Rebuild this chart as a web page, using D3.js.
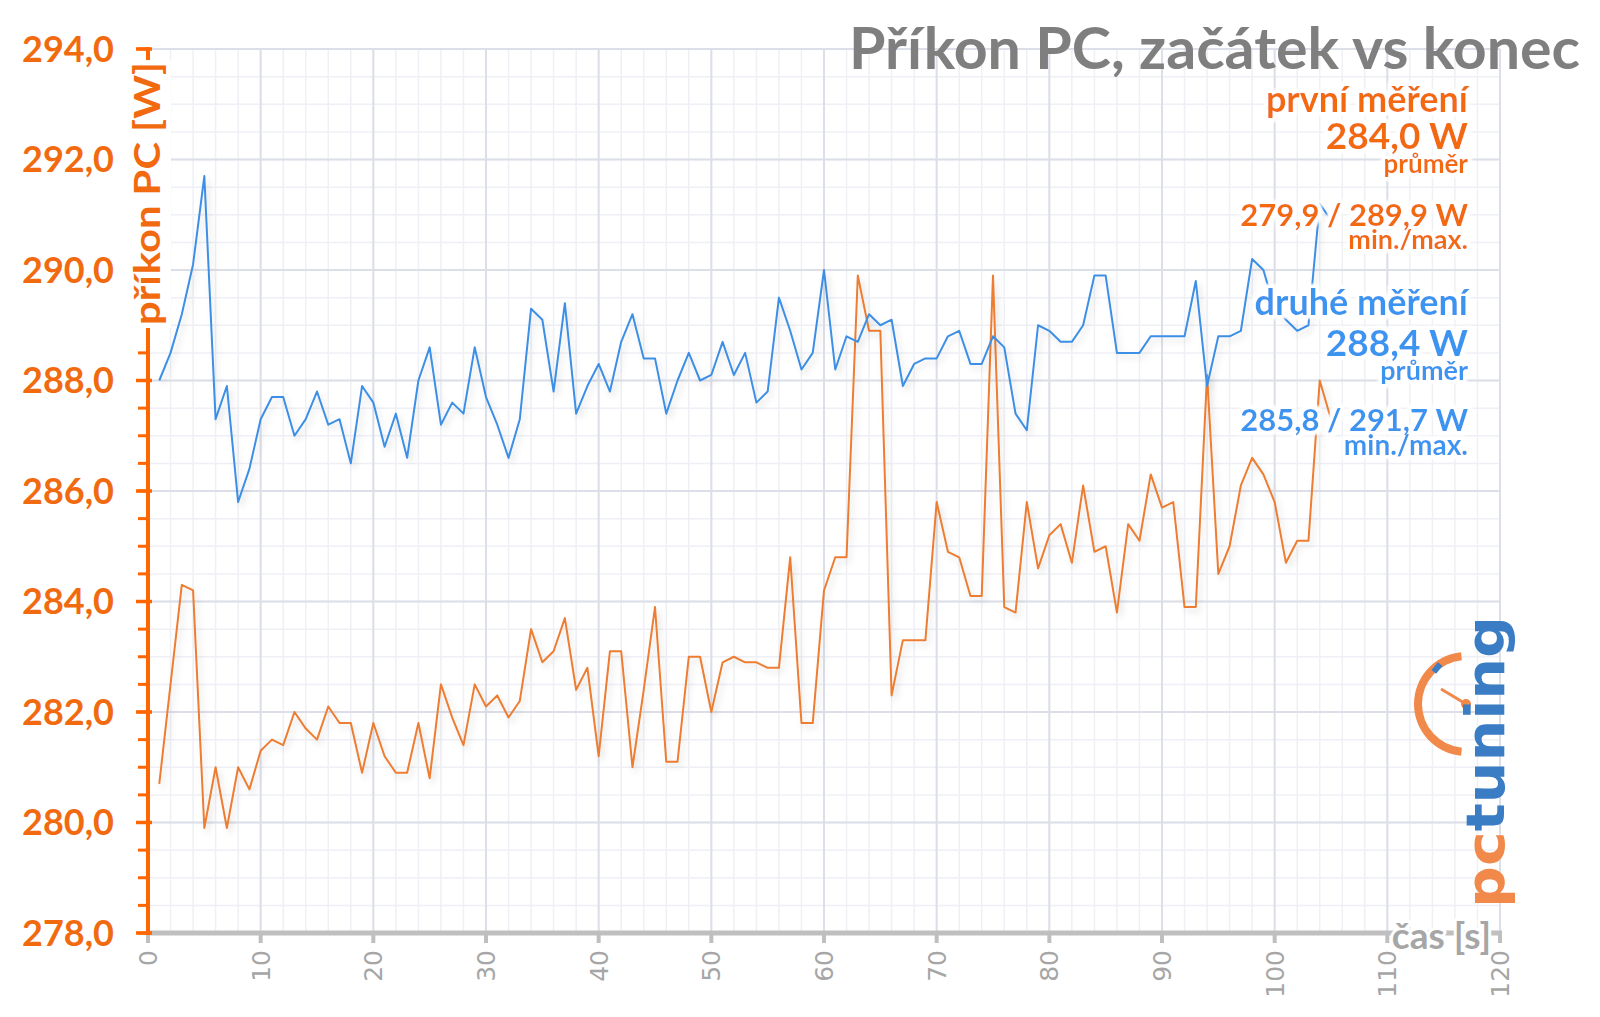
<!DOCTYPE html>
<html>
<head>
<meta charset="utf-8">
<script src="https://cdn.jsdelivr.net/npm/d3@7"></script>
<style>
  html, body { margin: 0; padding: 0; background: #ffffff; }
  svg { display: block; }
</style>
</head>
<body>
<script>
// ---------------- DATA ----------------
const timeSec = d3.range(1, 106); // 1..105 s
const firstRun = [
  280.7, 282.5, 284.3, 284.2, 279.9, 281.0, 279.9, 281.0, 280.6, 281.3,
  281.5, 281.4, 282.0, 281.7, 281.5, 282.1, 281.8, 281.8, 280.9, 281.8,
  281.2, 280.9, 280.9, 281.8, 280.8, 282.5, 281.9, 281.4, 282.5, 282.1,
  282.3, 281.9, 282.2, 283.5, 282.9, 283.1, 283.7, 282.4, 282.8, 281.2,
  283.1, 283.1, 281.0, 282.4, 283.9, 281.1, 281.1, 283.0, 283.0, 282.0,
  282.9, 283.0, 282.9, 282.9, 282.8, 282.8, 284.8, 281.8, 281.8, 284.2,
  284.8, 284.8, 289.9, 288.9, 288.9, 282.3, 283.3, 283.3, 283.3, 285.8,
  284.9, 284.8, 284.1, 284.1, 289.9, 283.9, 283.8, 285.8, 284.6, 285.2,
  285.4, 284.7, 286.1, 284.9, 285.0, 283.8, 285.4, 285.1, 286.3, 285.7,
  285.8, 283.9, 283.9, 288.1, 284.5, 285.0, 286.1, 286.6, 286.3, 285.8,
  284.7, 285.1, 285.1, 288.0, 287.3
];
const secondRun = [
  288.0, 288.5, 289.2, 290.1, 291.7, 287.3, 287.9, 285.8, 286.4, 287.3,
  287.7, 287.7, 287.0, 287.3, 287.8, 287.2, 287.3, 286.5, 287.9, 287.6,
  286.8, 287.4, 286.6, 288.0, 288.6, 287.2, 287.6, 287.4, 288.6, 287.7,
  287.2, 286.6, 287.3, 289.3, 289.1, 287.8, 289.4, 287.4, 287.9, 288.3,
  287.8, 288.7, 289.2, 288.4, 288.4, 287.4, 288.0, 288.5, 288.0, 288.1,
  288.7, 288.1, 288.5, 287.6, 287.8, 289.5, 288.9, 288.2, 288.5, 290.0,
  288.2, 288.8, 288.7, 289.2, 289.0, 289.1, 287.9, 288.3, 288.4, 288.4,
  288.8, 288.9, 288.3, 288.3, 288.8, 288.6, 287.4, 287.1, 289.0, 288.9,
  288.7, 288.7, 289.0, 289.9, 289.9, 288.5, 288.5, 288.5, 288.8, 288.8,
  288.8, 288.8, 289.8, 287.9, 288.8, 288.8, 288.9, 290.2, 290.0, 289.3,
  289.1, 288.9, 289.0, 291.2, 290.9
];
const yTickValues = [278, 280, 282, 284, 286, 288, 290, 292, 294];
const xTickValues = [0, 10, 20, 30, 40, 50, 60, 70, 80, 90, 100, 110, 120];
const titleText = "Příkon PC, začátek vs konec";
const yAxisTitle = "příkon PC [W]";
const xAxisTitle = "čas [s]";
const legendFirst = ["první měření", "284,0 W", "průměr", "279,9 / 289,9 W", "min./max."];
const legendSecond = ["druhé měření", "288,4 W", "průměr", "285,8 / 291,7 W", "min./max."];

// ---------------- LAYOUT ----------------
const W = 1600, H = 1017;
const ORANGE_TXT = "#f26a10", ORANGE_AX = "#ff6600", ORANGE_LINE = "#ed7d31";
const BLUE_LINE = "#3d8fe6", BLUE_TXT = "#3a95f0";
const FONT = "Lato, 'Open Sans', sans-serif";

const x = d3.scaleLinear().domain([0, 120]).range([148, 1500]);
const y = d3.scaleLinear().domain([278, 294]).range([933, 49]);

const svg = d3.select("body").append("svg").attr("width", W).attr("height", H);
const defs = svg.append("defs");
const f = defs.append("filter").attr("id", "shadow").attr("x", "-5%").attr("y", "-5%").attr("width", "110%").attr("height", "120%");
f.append("feDropShadow").attr("dx", 3).attr("dy", 4).attr("stdDeviation", 3)
  .attr("flood-color", "#000").attr("flood-opacity", 0.13);
// white glow behind legend texts
const hf = defs.append("filter").attr("id", "halo").attr("x", "-10%").attr("y", "-10%").attr("width", "120%").attr("height", "120%");
hf.append("feMorphology").attr("in", "SourceAlpha").attr("operator", "dilate").attr("radius", 4).attr("result", "dil");
hf.append("feGaussianBlur").attr("in", "dil").attr("stdDeviation", 1).attr("result", "blur");
hf.append("feFlood").attr("flood-color", "#ffffff").attr("result", "white");
hf.append("feComposite").attr("in", "white").attr("in2", "blur").attr("operator", "in").attr("result", "glow");
const hm = hf.append("feMerge");
hm.append("feMergeNode").attr("in", "glow");
hm.append("feMergeNode").attr("in", "SourceGraphic");

// grid
const grid = svg.append("g");
grid.selectAll(".vmin").data(d3.range(0, 121, 2)).join("line")
  .attr("x1", d => x(d)).attr("x2", d => x(d)).attr("y1", y(294)).attr("y2", y(278))
  .attr("stroke", "#eef0f5").attr("stroke-width", 1.5);
grid.selectAll(".hmin").data(d3.range(278, 294.01, 0.5)).join("line")
  .attr("x1", x(0)).attr("x2", x(120)).attr("y1", d => y(d)).attr("y2", d => y(d))
  .attr("stroke", "#eef0f5").attr("stroke-width", 1.5);
grid.selectAll(".vmaj").data(xTickValues).join("line")
  .attr("x1", d => x(d)).attr("x2", d => x(d)).attr("y1", y(294)).attr("y2", y(278))
  .attr("stroke", "#dcdfe7").attr("stroke-width", 2);
grid.selectAll(".hmaj").data(yTickValues).join("line")
  .attr("x1", x(0)).attr("x2", x(120)).attr("y1", d => y(d)).attr("y2", d => y(d))
  .attr("stroke", "#dcdfe7").attr("stroke-width", 2);

// title
svg.append("text").attr("x", 1580).attr("y", 69).attr("text-anchor", "end")
  .attr("font-family", FONT).attr("font-weight", 700).attr("font-size", 58)
  .attr("fill", "#7f7f7f").attr("textLength", 731).attr("lengthAdjust", "spacingAndGlyphs")
  .text(titleText);

// x axis
const xAxisG = svg.append("g");
xAxisG.append("line").attr("x1", x(0) - 2).attr("x2", x(120) + 2).attr("y1", y(278)).attr("y2", y(278))
  .attr("stroke", "#bfbfbf").attr("stroke-width", 5);
xAxisG.selectAll(".xt").data(xTickValues).join("line")
  .attr("x1", d => x(d)).attr("x2", d => x(d)).attr("y1", y(278)).attr("y2", y(278) + 10)
  .attr("stroke", "#bfbfbf").attr("stroke-width", 4);
xAxisG.selectAll(".xl").data(xTickValues).join("text")
  .attr("transform", d => `translate(${x(d)},${y(278) + 17}) rotate(-90)`)
  .attr("text-anchor", "end").attr("dy", "0.36em")
  .attr("font-family", "'DejaVu Sans', sans-serif").attr("font-size", 25)
  .attr("fill", "#a6a6a6").text(d => d);

// lines
const line = d3.line().x((d, i) => x(timeSec[i])).y(d => y(d));
svg.append("path").datum(firstRun).attr("d", line).attr("fill", "none")
  .attr("stroke", ORANGE_LINE).attr("stroke-width", 2).attr("stroke-linejoin", "round")
  .attr("filter", "url(#shadow)");
svg.append("path").datum(secondRun).attr("d", line).attr("fill", "none")
  .attr("stroke", BLUE_LINE).attr("stroke-width", 2).attr("stroke-linejoin", "round")
  .attr("filter", "url(#shadow)");

// y axis
const yAxisG = svg.append("g");
yAxisG.selectAll(".ymin").data(d3.range(278, 294.01, 0.5)).join("line")
  .attr("x1", x(0) - 10).attr("x2", x(0)).attr("y1", d => y(d)).attr("y2", d => y(d))
  .attr("stroke", ORANGE_AX).attr("stroke-width", 3);
yAxisG.selectAll(".ymaj").data(yTickValues).join("line")
  .attr("x1", x(0) - 12).attr("x2", x(0) + 4).attr("y1", d => y(d)).attr("y2", d => y(d))
  .attr("stroke", ORANGE_AX).attr("stroke-width", 3.5);
yAxisG.append("line").attr("x1", x(0)).attr("x2", x(0)).attr("y1", y(294) - 2).attr("y2", y(278) + 2)
  .attr("stroke", ORANGE_AX).attr("stroke-width", 4);
yAxisG.selectAll(".yl").data(yTickValues).join("text")
  .attr("x", 114).attr("y", d => y(d)).attr("dy", "0.35em").attr("text-anchor", "end")
  .attr("font-family", FONT).attr("font-weight", 700).attr("font-size", 36)
  .attr("fill", ORANGE_TXT).text(d => d3.format(".1f")(d).replace(".", ","));

// y axis title with white backing (hides the axis behind it)
svg.append("rect").attr("x", 127).attr("y", 60).attr("width", 44).attr("height", 268).attr("fill", "#fff");
svg.append("text")
  .attr("transform", `translate(160,${(62 + 325) / 2}) rotate(-90)`)
  .attr("text-anchor", "middle")
  .attr("font-family", FONT).attr("font-weight", 700).attr("font-size", 36)
  .attr("fill", ORANGE_TXT).attr("textLength", 263).attr("lengthAdjust", "spacingAndGlyphs")
  .text(yAxisTitle);

// x axis title
svg.append("text").attr("x", 1491).attr("y", 949).attr("text-anchor", "end")
  .attr("font-family", FONT).attr("font-weight", 700).attr("font-size", 37)
  .attr("fill", "#a6a6a6").attr("stroke", "#fff").attr("stroke-width", 6)
  .attr("stroke-linejoin", "round").attr("paint-order", "stroke")
  .text(xAxisTitle);

// legend blocks (one glow filter for the whole group so glows stay behind every line of text)
const legendSpecs = [
  { lines: legendFirst, color: ORANGE_TXT, base: [112, 149, 173, 226, 249], size: [36, 37, 26, 31, 27] },
  { lines: legendSecond, color: BLUE_TXT, base: [315, 356, 380, 431, 455], size: [36, 37, 27, 31, 28] }
];
const legendG = svg.append("g").attr("filter", "url(#halo)");
legendSpecs.forEach(spec => {
  spec.lines.forEach((t, i) => {
    legendG.append("text").attr("x", 1468).attr("y", spec.base[i]).attr("text-anchor", "end")
      .attr("font-family", FONT).attr("font-weight", 700).attr("font-size", spec.size[i])
      .attr("fill", spec.color).text(t);
  });
});

// logo (pctuning)
const logo = svg.append("g");
const cx = 1466, cy = 704;
logo.append("path").attr("d", d3.arc().innerRadius(44).outerRadius(52)
  .startAngle(-Math.PI * 0.03).endAngle(-Math.PI * 0.97)()).attr("transform", `translate(${cx},${cy})`)
  .attr("fill", "#f0894a");
logo.append("line").attr("x1", cx).attr("y1", cy).attr("x2", cx - 25).attr("y2", cy - 15)
  .attr("stroke", "#f0894a").attr("stroke-width", 3);
logo.append("circle").attr("cx", cx).attr("cy", cy).attr("r", 5).attr("fill", "#f0894a");
logo.append("rect").attr("x", 1434).attr("y", 663).attr("width", 6).attr("height", 10)
  .attr("transform", "rotate(40,1437,668)").attr("fill", "#3b7dc4");
const lt = logo.append("text").attr("transform", "translate(1504,908) rotate(-90)")
  .attr("font-family", "'DejaVu Sans', sans-serif").attr("font-weight", 700).attr("font-size", 54)
  .attr("textLength", 292).attr("lengthAdjust", "spacingAndGlyphs");
lt.append("tspan").attr("fill", "#f0894a").text("pc");
lt.append("tspan").attr("fill", "#3b7dc4").text("tuning");
</script>
</body>
</html>
